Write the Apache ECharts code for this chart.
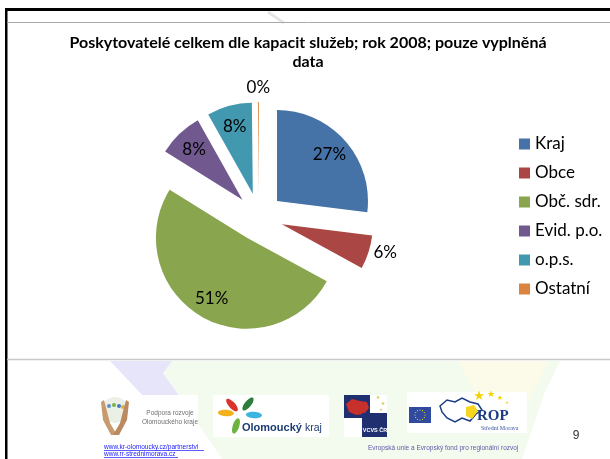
<!DOCTYPE html>
<html>
<head>
<meta charset="utf-8">
<script src="https://cdn.jsdelivr.net/npm/echarts@6/dist/echarts.min.js"></script>
<style>
html, body { margin: 0; padding: 0; background: #fff; }
#container { width: 610px; height: 459px; }
</style>
</head>
<body>
<div id="container"></div>
<script>
// Chart data
const categories = ['Kraj', 'Obce', 'Obč. sdr.', 'Evid. p.o.', 'o.p.s.', 'Ostatní'];
const shares = [27, 6, 51, 8, 8, 0];
const colors = ['#4572A7', '#AA4643', '#89A54E', '#71588F', '#4198AF', '#DB843D'];
const labelInside = [true, false, true, true, true, false];
const titleText = 'Poskytovatelé celkem dle kapacit služeb; rok 2008; pouze vyplněná\ndata';

const container = document.getElementById('container');
const chart = echarts.init(container);

const CX = 259, CY = 217, R = 91, OFFSET = 24;
const tinyFont = '6.5px "Liberation Sans", Arial, sans-serif';

// slide decoration (frame, watermark, footer logos)
function txt(x, y, text, font, fill, align, valign) {
  return {
    type: 'text', x: x, y: y, silent: true,
    style: { text: text, font: font, fill: fill, textAlign: align || 'left', align: align || 'left',
             textVerticalAlign: valign || 'middle', verticalAlign: valign || 'middle' }
  };
}
function rect(x, y, w, h, fill, z) {
  return { type: 'rect', silent: true, z: z || 0, shape: { x: x, y: y, width: w, height: h }, style: { fill: fill } };
}

const graphics = [
  // faint map watermark in the footer
  { type: 'polygon', silent: true, z: -10, shape: { points: [[172,361],[560,361],[545,392],[522,459],[222,459],[182,400],[163,373]] }, style: { fill: '#f3faee' } },
  { type: 'polygon', silent: true, z: -9, shape: { points: [[458,361],[548,361],[528,402],[475,392]] }, style: { fill: '#fcfbea' } },
  { type: 'polygon', silent: true, z: -9, shape: { points: [[110,361],[172,361],[163,373],[182,400],[147,400]] }, style: { fill: '#e6e5fa' } },
  { type: 'line', silent: true, z: -9, shape: { x1: 268, y1: 12, x2: 284, y2: 23 }, style: { stroke: '#e6e6e6', lineWidth: 3 } },
  // frame
  rect(5, 8, 605, 3, '#000'),
  rect(5, 8, 2.5, 451, '#000'),
  { type: 'line', silent: true, shape: { x1: 7, y1: 22.5, x2: 610, y2: 22.5 }, style: { stroke: '#aaaaaa', lineWidth: 1 } },
  { type: 'line', silent: true, shape: { x1: 7, y1: 359.5, x2: 610, y2: 359.5 }, style: { stroke: '#c8c8c8', lineWidth: 1.5 } },

  // logo 1
  rect(100, 395, 98, 40, '#fff'),
  { type: 'circle', silent: true, shape: { cx: 115, cy: 410, r: 13 }, style: { fill: '#eaf0e6' } },
  { type: 'circle', silent: true, shape: { cx: 109, cy: 406, r: 2 }, style: { fill: '#5b8fd0' } },
  { type: 'circle', silent: true, shape: { cx: 114, cy: 405, r: 2 }, style: { fill: '#7ab04a' } },
  { type: 'circle', silent: true, shape: { cx: 119, cy: 406, r: 2 }, style: { fill: '#4a78c0' } },
  { type: 'circle', silent: true, shape: { cx: 123, cy: 407, r: 2 }, style: { fill: '#e0b040' } },
  { type: 'polygon', silent: true, shape: { points: [[101,402],[104,400],[110,423],[117,435],[111,435],[103,420]] }, style: { fill: '#c89a70' } },
  { type: 'polygon', silent: true, shape: { points: [[129,402],[126,400],[120,423],[113,435],[119,435],[127,420]] }, style: { fill: '#bb8a60' } },
  txt(170, 413, 'Podpora rozvoje', tinyFont, '#707070', 'center'),
  txt(170, 422, 'Olomouckého kraje', tinyFont, '#707070', 'center'),

  // logo 2
  rect(213, 395, 116, 42, '#fff'),
  txt(242, 428, 'Olomoucký', 'bold 11px "Liberation Sans", Arial, sans-serif', '#1c3b73'),
  txt(305, 428, 'kraj', '10.5px "Liberation Sans", Arial, sans-serif', '#1c3b73'),

  // logo 3
  rect(344, 395, 43, 42, '#fff'),
  rect(344, 395, 26, 23, '#1f2f6f'),
  { type: 'polygon', silent: true, shape: { points: [[346,404],[352,399],[360,401],[367,402],[369,408],[364,414],[356,415],[349,412]] }, style: { fill: '#c8302c' } },
  rect(362, 413, 25, 24, '#1f2f6f'),
  txt(378, 398, '★', '5px "DejaVu Sans"', '#d8c860', 'center'),
  txt(383, 404, '★', '5px "DejaVu Sans"', '#d8c860', 'center'),
  txt(381, 410, '★', '4px "DejaVu Sans"', '#d8c860', 'center'),
  txt(375, 430, 'VCVS ČR', 'bold 5.5px "Liberation Sans", Arial, sans-serif', '#ffffff', 'center'),

  // logo 4
  rect(407, 392, 120, 41, '#fff'),
  rect(409, 407, 22, 16, '#2f4a9e'),
  { type: 'polygon', silent: true, shape: { points: [[440,406],[447,400],[455,402],[462,398],[470,402],[478,404],[482,410],[476,414],[470,421],[462,418],[455,422],[447,418],[442,412]] }, style: { fill: 'none', stroke: '#1c3b85', lineWidth: 1.5 } },
  { type: 'polygon', silent: true, shape: { points: [[466,407],[474,405],[478,411],[472,419],[466,416]] }, style: { fill: '#f5d520' } },
  txt(479, 397, '★', '13px "DejaVu Sans"', '#f2d200', 'center'),
  txt(491, 395, '★', '9px "DejaVu Sans"', '#f2d200', 'center'),
  txt(500, 398, '★', '7px "DejaVu Sans"', '#f2d200', 'center'),
  txt(507, 403, '★', '4px "DejaVu Sans"', '#f2d200', 'center'),
  txt(477, 416, 'ROP', 'bold 15px "Liberation Serif", serif', '#1c3b85'),
  txt(481, 428, 'Střední Morava', '6px "Liberation Serif", serif', '#3a56a0'),

  // footer texts
  txt(576, 436, '9', '12px "Liberation Sans", Arial, sans-serif', '#333333', 'center'),
  txt(368, 448, 'Evropská unie a Evropský fond pro regionální rozvoj', tinyFont, '#5c5ca8'),
  txt(104, 447, 'www.kr-olomoucky.cz/partnerstvi', tinyFont, '#1a1aff'),
  txt(104, 454, 'www.rr-strednimorava.cz', tinyFont, '#1a1aff'),
  { type: 'line', silent: true, shape: { x1: 104, y1: 450.5, x2: 204, y2: 450.5 }, style: { stroke: '#1a1aff', lineWidth: 0.7 } },
  { type: 'line', silent: true, shape: { x1: 104, y1: 457.5, x2: 178, y2: 457.5 }, style: { stroke: '#1a1aff', lineWidth: 0.7 } }
];

// flower petals of the second logo
const flowerCenter = [240, 414];
const petals = [[232, 405, '#d9342b'], [248, 404, '#2f7d3a'], [254, 415, '#3bb4e0'], [226, 413, '#f2b21c'], [236, 426, '#6cb33f']];
petals.forEach(p => {
  const a = Math.atan2(-(p[1] - flowerCenter[1]), p[0] - flowerCenter[0]);
  graphics.push({
    type: 'ellipse', silent: true, x: p[0], y: p[1], rotation: a,
    shape: { cx: 0, cy: 0, rx: 8, ry: 3.2 }, style: { fill: p[2] }
  });
});
// EU stars
for (let i = 0; i < 12; i++) {
  const a = i / 12 * Math.PI * 2;
  graphics.push({ type: 'circle', silent: true, shape: { cx: 420 + 5 * Math.cos(a), cy: 415 + 5 * Math.sin(a), r: 0.6 }, style: { fill: '#f5d520' } });
}

const pieData = categories.map((name, i) => ({
  name: name,
  value: shares[i],
  selected: true,
  itemStyle: { color: colors[i] }
}));

const labelData = categories.map((name, i) => ({
  name: name,
  value: shares[i],
  selected: true,
  label: { position: labelInside[i] ? 'inside' : 'outside' },
  labelLine: i === 5 ? { length: 14, length2: 0 } : { length: 0, length2: 0 }
}));

const option = {
  animation: false,
  color: colors,
  title: {
    text: titleText,
    left: 308,
    top: 33,
    textAlign: 'center',
    padding: 0,
    textStyle: { fontFamily: 'Lato', fontWeight: 'bold', fontSize: 16, lineHeight: 19, color: '#000' }
  },
  legend: {
    orient: 'vertical',
    left: 519,
    top: 134,
    padding: 0,
    icon: 'rect',
    itemWidth: 11,
    itemHeight: 11,
    itemGap: 9,
    selectedMode: false,
    data: categories,
    textStyle: { fontFamily: 'Lato', fontSize: 17, lineHeight: 20, color: '#000' }
  },
  graphic: graphics,
  series: [
    {
      type: 'pie',
      center: [CX, CY],
      radius: [0, R],
      startAngle: 90,
      minAngle: 0.6,
      selectedMode: 'multiple',
      selectedOffset: OFFSET,
      avoidLabelOverlap: false,
      label: { show: false },
      labelLine: { show: false },
      emphasis: { disabled: true },
      itemStyle: { borderWidth: 0 },
      data: pieData
    },
    {
      // label layer: same geometry, transparent sectors
      type: 'pie',
      center: [CX, CY],
      radius: [43, R],
      startAngle: 90,
      minAngle: 0.6,
      selectedMode: 'multiple',
      selectedOffset: OFFSET,
      avoidLabelOverlap: false,
      silent: true,
      itemStyle: { color: 'rgba(0,0,0,0)', borderWidth: 0 },
      emphasis: { disabled: true },
      label: {
        show: true,
        fontFamily: 'Lato',
        fontSize: 17,
        color: '#000',
        formatter: p => Math.round(p.percent) + '%'
      },
      labelLine: { show: false },
      labelLayout: p => (p.dataIndex === 5 ? { align: 'center', dx: 5 } : {}),
      data: labelData
    }
  ]
};

chart.setOption(option);
</script>
</body>
</html>
